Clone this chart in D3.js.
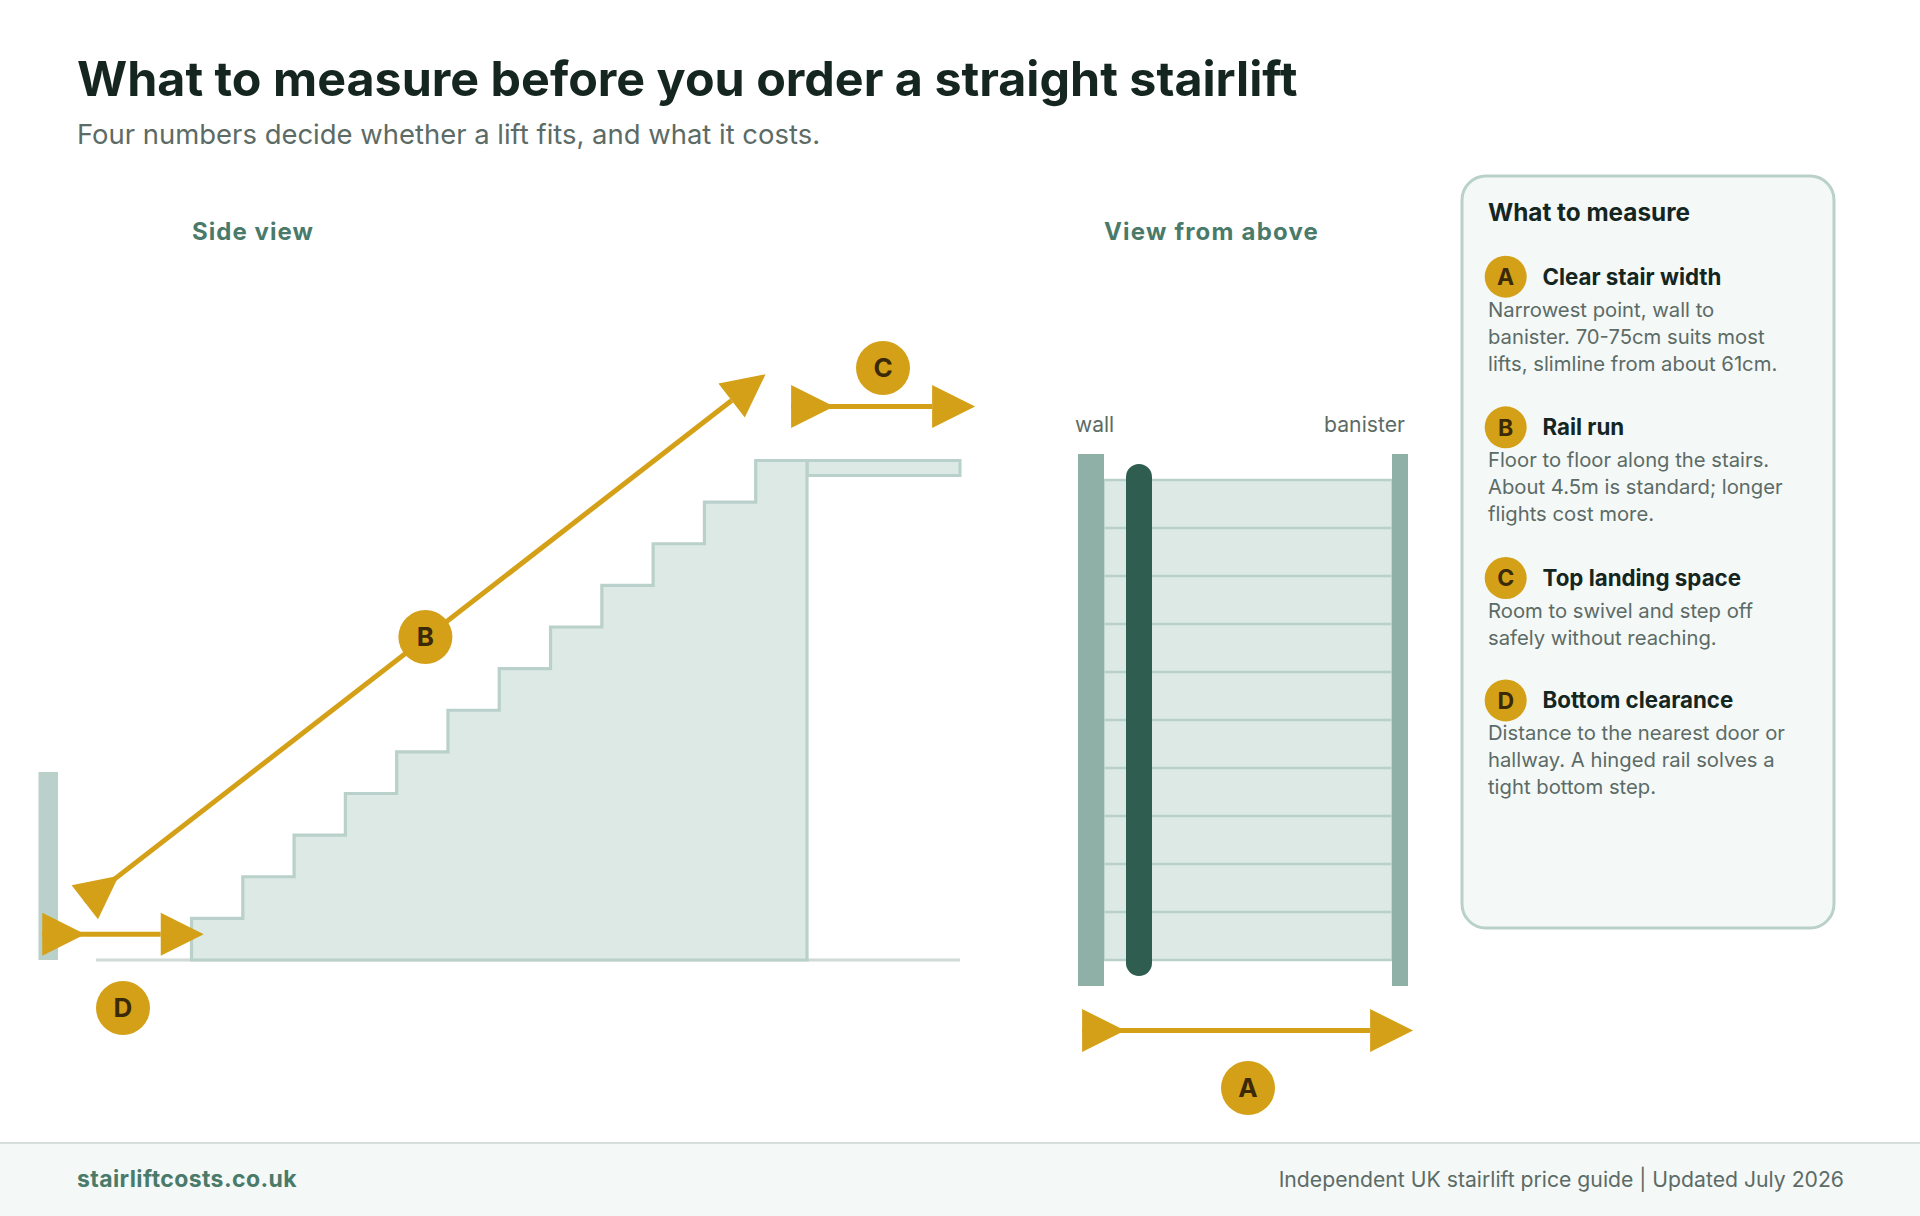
<!DOCTYPE html>
<html>
<head>
<meta charset="utf-8">
<script src="https://cdn.jsdelivr.net/npm/d3@7"></script>
<style>
  html, body { margin: 0; padding: 0; background: #ffffff; }
  svg { display: block; }
  text { font-family: Inter, "Noto Sans", sans-serif; }
</style>
</head>
<body>
<div id="root"></div>
<script>
// Stair counts
var sideSteps = [0, 1, 2, 3, 4, 5, 6, 7, 8, 9, 10, 11, 12];
var topTreads = [0, 1, 2, 3, 4, 5, 6, 7, 8, 9, 10];

// Measure letters
var letters = ["A", "B", "C", "D"];
var itemTitles = ["Clear stair width", "Rail run", "Top landing space", "Bottom clearance"];
var itemLines = [
  ["Narrowest point, wall to", "banister. 70-75cm suits most", "lifts, slimline from about 61cm."],
  ["Floor to floor along the stairs.", "About 4.5m is standard; longer", "flights cost more."],
  ["Room to swivel and step off", "safely without reaching."],
  ["Distance to the nearest door or", "hallway. A hinged rail solves a", "tight bottom step."]
];

var width = 1920, height = 1216;
var gold = "#d4a017", ink = "#14261f", grey = "#5c6b66", green = "#4a7a6a";
var pale = "#dce9e4", edge = "#b9d1ca", mid = "#8fb0a6", dark = "#2f5d50", wash = "#f4f8f7";

var svg = d3.select("#root").append("svg")
  .attr("width", width)
  .attr("height", height);

// Scales: side view in treads and risers, top view in treads and % of stair width
var sideX = d3.scaleLinear().domain([0, 12]).range([191.5, 807]);
var sideY = d3.scaleLinear().domain([0, 12]).range([960, 460.5]);
var topY = d3.scaleLinear().domain([0, 10]).range([480, 960]);
var topX = d3.scaleLinear().domain([0, 100]).range([1104, 1392]);

// Title block
svg.append("text").attr("x", 77).attr("y", 96)
  .attr("font-size", 48.4).attr("font-weight", 700).attr("fill", ink)
  .text("What to measure before you order a straight stairlift");
svg.append("text").attr("x", 77).attr("y", 144)
  .attr("font-size", 27.45).attr("fill", grey)
  .text("Four numbers decide whether a lift fits, and what it costs.");

svg.append("text").attr("x", 192).attr("y", 240)
  .attr("font-size", 24).attr("font-weight", 700).attr("letter-spacing", 1.05).attr("fill", green)
  .text("Side view");
svg.append("text").attr("x", 1104).attr("y", 240)
  .attr("font-size", 24).attr("font-weight", 700).attr("letter-spacing", 1.2).attr("fill", green)
  .text("View from above");

// Side view
svg.append("rect")
  .attr("x", 38.5).attr("y", 772).attr("width", 19.5).attr("height", sideY(0) - 772)
  .attr("fill", edge);

svg.append("line")
  .attr("x1", 96).attr("x2", 960).attr("y1", sideY(0)).attr("y2", sideY(0))
  .attr("stroke", "#cfdad6").attr("stroke-width", 3);

svg.append("rect")
  .attr("x", sideX(12)).attr("y", sideY(12)).attr("width", 960 - sideX(12)).attr("height", 15)
  .attr("fill", pale).attr("stroke", edge).attr("stroke-width", 3);

var stairPts = [[sideX(0), sideY(0)]];
sideSteps.slice(1).forEach(function (s) {
  stairPts.push([sideX(s - 1), sideY(s)]);
  stairPts.push([sideX(s), sideY(s)]);
});
stairPts.push([sideX(12), sideY(0)]);

svg.append("path")
  .attr("d", d3.line()(stairPts) + "Z")
  .attr("fill", pale).attr("stroke", edge).attr("stroke-width", 3.2);

// Top view
svg.append("rect")
  .attr("x", topX(0)).attr("y", topY(0)).attr("width", topX(100) - topX(0)).attr("height", topY(10) - topY(0))
  .attr("fill", pale).attr("stroke", edge).attr("stroke-width", 1.5);

svg.selectAll(".tread")
  .data(topTreads)
  .enter().append("line")
  .attr("class", "tread")
  .attr("x1", topX(0)).attr("x2", topX(100))
  .attr("y1", function (d) { return topY(d); })
  .attr("y2", function (d) { return topY(d); })
  .attr("stroke", edge).attr("stroke-width", 2.5);

svg.append("rect").attr("x", 1078).attr("y", 454).attr("width", 26).attr("height", 532).attr("fill", mid);
svg.append("rect").attr("x", 1392).attr("y", 454).attr("width", 16).attr("height", 532).attr("fill", mid);
svg.append("rect").attr("x", 1126).attr("y", 464).attr("width", 26).attr("height", 512).attr("rx", 13).attr("fill", dark);

svg.append("text").attr("x", 1075).attr("y", 432).attr("font-size", 21).attr("fill", grey).text("wall");
svg.append("text").attr("x", 1405).attr("y", 432).attr("text-anchor", "end").attr("font-size", 21.2).attr("fill", grey).text("banister");

// Arrows, both triangles point the same way
function arrow(p0, p1) {
  var len = 43, half = 21.5;
  var dx = p1[0] - p0[0], dy = p1[1] - p0[1];
  var d = Math.sqrt(dx * dx + dy * dy);
  var ux = dx / d, uy = dy / d;
  svg.append("line")
    .attr("x1", p0[0]).attr("y1", p0[1]).attr("x2", p1[0]).attr("y2", p1[1])
    .attr("stroke", gold).attr("stroke-width", 5);
  [p0, p1].forEach(function (p) {
    svg.append("path")
      .attr("d", d3.line()([
        [p[0] - uy * half, p[1] + ux * half],
        [p[0] + ux * len, p[1] + uy * len],
        [p[0] + uy * half, p[1] - ux * half]
      ]) + "Z")
      .attr("fill", gold);
  });
}

arrow([sideX(-2.08), sideY(1.39)], [sideX(10.53), sideY(13.44)]);
arrow([sideX(11.69), sideY(13.3)], [sideX(14.44), sideY(13.3)]);
arrow([sideX(-2.91), sideY(0.62)], [sideX(-0.6), sideY(0.62)]);
arrow([topX(-7.6), 1030.5], [topX(92.4), 1030.5]);

function badge(x, y, r, size, label) {
  svg.append("circle").attr("cx", x).attr("cy", y).attr("r", r).attr("fill", gold);
  svg.append("text")
    .attr("x", x).attr("y", y + size * 0.36)
    .attr("text-anchor", "middle")
    .attr("font-size", size).attr("font-weight", 700).attr("fill", "#3a2a08")
    .text(label);
}

badge(topX(50), 1088, 27, 26, letters[0]);
badge(sideX(4.56), 637, 27, 26, letters[1]);
badge(883, 368, 27, 26, letters[2]);
badge(123, 1008, 27, 26, letters[3]);

// Panel
svg.append("rect")
  .attr("x", 1462).attr("y", 176).attr("width", 372).attr("height", 752).attr("rx", 24)
  .attr("fill", wash).attr("stroke", edge).attr("stroke-width", 3);

svg.append("text").attr("x", 1488).attr("y", 221)
  .attr("font-size", 24.3).attr("font-weight", 700).attr("fill", ink)
  .text("What to measure");

var itemY = d3.scaleOrdinal().domain(letters).range([276.7, 427.3, 578, 700.4]);

letters.forEach(function (l, i) {
  var y = itemY(l);
  badge(1505.7, y, 21, 23, l);
  svg.append("text").attr("x", 1542.5).attr("y", y + 8)
    .attr("font-size", 22.3).attr("font-weight", 700).attr("fill", ink)
    .text(itemTitles[i]);
  svg.selectAll(".line" + i)
    .data(itemLines[i])
    .enter().append("text")
    .attr("class", "line" + i)
    .attr("x", 1488)
    .attr("y", function (d, j) { return y + 40 + j * 27; })
    .attr("font-size", 20.25).attr("fill", grey)
    .text(function (d) { return d; });
});

// Footer
svg.append("rect").attr("x", 0).attr("y", 1143).attr("width", width).attr("height", height - 1143).attr("fill", wash);
svg.append("line").attr("x1", 0).attr("x2", width).attr("y1", 1143).attr("y2", 1143).attr("stroke", "#d6dedb").attr("stroke-width", 2);
svg.append("text").attr("x", 77).attr("y", 1187)
  .attr("font-size", 23).attr("font-weight", 700).attr("letter-spacing", 0.4).attr("fill", green)
  .text("stairliftcosts.co.uk");
svg.append("text").attr("x", 1844).attr("y", 1187).attr("text-anchor", "end")
  .attr("font-size", 21.2).attr("fill", grey)
  .text("Independent UK stairlift price guide | Updated July 2026");
</script>
</body>
</html>
